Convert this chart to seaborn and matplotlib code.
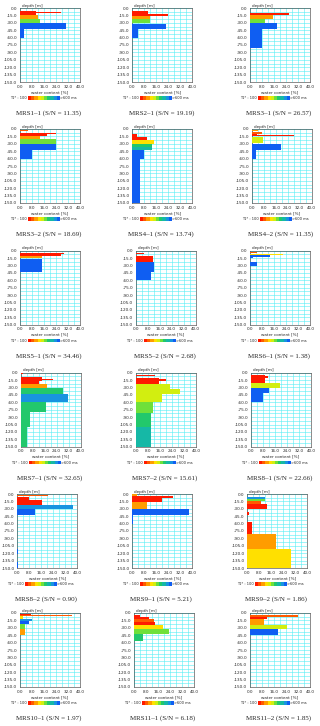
import numpy as np
import matplotlib
matplotlib.use("Agg")
import matplotlib.pyplot as plt
from matplotlib.colors import ListedColormap, BoundaryNorm
import seaborn as sns

# --- data: one small set of lists per sounding (depth top/bottom [m], water content [%], T1* [ms]) ---
names = ["MRS1–1", "MRS2–1", "MRS3–1", "MRS3–2", "MRS4–1", "MRS4–2",
         "MRS5–1", "MRS5–2", "MRS6–1", "MRS7–1", "MRS7–2", "MRS8–1",
         "MRS8–2", "MRS9–1", "MRS9–2", "MRS10–1", "MRS11–1", "MRS11–2"]
snr = [11.35, 19.19, 26.57, 18.69, 13.74, 11.35,
       34.46, 2.68, 1.38, 32.65, 15.61, 22.66,
       0.90, 5.21, 1.86, 1.97, 6.18, 1.85]

mrs1_1_top = [6, 14, 22, 31, 42, 8]
mrs1_1_bot = [14, 22, 31, 42, 60, 10.5]
mrs1_1_wc = [10.7, 11.8, 13.3, 30.4, 2.9, 27.3]
mrs1_1_t1 = [110, 210, 360, 580, 580, 110]

mrs2_1_top = [6, 15.5, 23, 32.5, 43.5, 13]
mrs2_1_bot = [13, 23, 31, 43.5, 60, 15.5]
mrs2_1_wc = [10.7, 11.8, 11.8, 22.4, 4.0, 24.0]
mrs2_1_t1 = [110, 210, 360, 580, 580, 120]

mrs3_1_top = [10.5, 14, 23, 31, 43]
mrs3_1_bot = [14, 23, 31, 43, 82]
mrs3_1_wc = [26.0, 15.6, 10.0, 17.8, 8.2]
mrs3_1_t1 = [120, 210, 360, 580, 580]

mrs3_2_top = [1.5, 4, 7.5, 10.5, 14, 21, 30.5, 43]
mrs3_2_bot = [3.5, 5, 10.5, 14, 21, 29.5, 43, 60]
mrs3_2_wc = [5.5, 3.0, 24.0, 17.8, 13.3, 24.0, 24.0, 8.2]
mrs3_2_t1 = [160, 110, 110, 110, 210, 360, 580, 580]

mrs4_1_top = [10, 16, 22, 30.5, 36, 43, 60]
mrs4_1_bot = [16, 22, 30.5, 36, 43, 60, 150]
mrs4_1_wc = [3.0, 9.5, 14.4, 13.0, 13.0, 8.0, 5.0]
mrs4_1_t1 = [110, 110, 270, 410, 460, 580, 580]

mrs4_2_top = [2, 7, 10, 12, 15.5, 30.5, 43]
mrs4_2_bot = [5, 10, 14, 15, 29, 43, 60]
mrs4_2_wc = [4.4, 6.7, 3.3, 28.0, 7.3, 19.3, 3.0]
mrs4_2_t1 = [210, 160, 110, 110, 300, 580, 580]

mrs5_1_top = [4, 6.7, 10, 16.5]
mrs5_1_bot = [6.7, 10, 15.5, 43.5]
mrs5_1_wc = [29.0, 27.0, 14.4, 14.4]
mrs5_1_t1 = [110, 130, 210, 580]

mrs5_2_top = [4, 10.5, 22.5, 44]
mrs5_2_bot = [7, 22.5, 44, 59]
mrs5_2_wc = [5.8, 11.3, 12.4, 10.2]
mrs5_2_t1 = [130, 110, 580, 580]

mrs6_1_top = [2.5, 6.5, 9, 12.5, 22.5]
mrs6_1_bot = [5.5, 9, 12, 15.5, 32]
mrs6_1_wc = [4.4, 22.0, 13.0, 1.8, 4.4]
mrs6_1_t1 = [160, 290, 560, 560, 580]

mrs7_1_top = [1.3, 9.3, 13.3, 16, 22.6, 31.9, 43.8, 59, 79.6, 110.8]
mrs7_1_bot = [3.3, 16, 15.3, 22.6, 30.5, 43.8, 59, 79.6, 110.8, 150]
mrs7_1_wc = [1.8, 14.4, 21.8, 12.4, 17.3, 28.0, 31.3, 16.9, 6.2, 4.0]
mrs7_1_t1 = [110, 110, 110, 110, 230, 410, 520, 410, 410, 410]

mrs7_2_top = [4.6, 11.3, 13.3, 22.6, 33, 43.8, 59, 82.3, 110.8]
mrs7_2_bot = [6, 22.6, 16, 33, 43.8, 59, 82.3, 110.8, 150]
mrs7_2_wc = [12.7, 15.4, 20.0, 22.8, 29.5, 17.6, 11.6, 9.8, 9.8]
mrs7_2_t1 = [130, 110, 110, 300, 300, 300, 370, 430, 470]

mrs8_1_top = [5.4, 7.5, 21.4, 30.8, 41.5]
mrs8_1_bot = [21.4, 10, 30.8, 41.5, 59]
mrs8_1_wc = [9.3, 11.6, 19.3, 12.2, 8.2]
mrs8_1_t1 = [110, 110, 300, 580, 580]

mrs8_2_top = [2.7, 6.8, 11.5, 21.6, 31, 111, 138]
mrs8_2_bot = [4.7, 11.5, 21.6, 31, 42, 121, 150]
mrs8_2_wc = [20.2, 8.0, 16.7, 36.9, 11.8, 0.5, 0.4]
mrs8_2_t1 = [160, 110, 110, 510, 580, 580, 580]

mrs9_1_top = [0, 4, 4.5, 16, 31, 43]
mrs9_1_bot = [4, 16, 7.5, 31, 43, 60]
mrs9_1_wc = [3.3, 20.0, 26.9, 10.0, 37.8, 0.7]
mrs9_1_t1 = [210, 110, 110, 230, 580, 580]

mrs9_2_top = [6, 10.8, 14.9, 20.3, 36.5, 56.8, 80.4, 110.8]
mrs9_2_bot = [10.8, 14.9, 20.3, 29.7, 43, 80.4, 110.8, 150]
mrs9_2_wc = [12.0, 12.0, 9.0, 13.0, 1.4, 3.2, 19.4, 29.0]
mrs9_2_t1 = [540, 380, 160, 110, 110, 110, 210, 270]

mrs10_1_top = [1.4, 3.4, 6.8, 11.5, 16.9, 21.6, 31.8]
mrs10_1_bot = [4.7, 6.8, 11.5, 16.9, 21.6, 31.8, 43.9]
mrs10_1_wc = [7.1, 34.4, 1.8, 7.8, 6.2, 3.3, 3.3]
mrs10_1_t1 = [110, 160, 270, 510, 580, 360, 210]

mrs11_1_top = [3.4, 8.5, 12.5, 18, 23.6, 31.8, 41.9]
mrs11_1_bot = [8.5, 12.5, 18, 23.6, 31.8, 41.9, 57.4]
mrs11_1_wc = [4.0, 10.0, 13.3, 14.0, 19.6, 23.0, 5.8]
mrs11_1_t1 = [110, 110, 160, 110, 270, 360, 440]

mrs11_2_top = [4.7, 3.4, 12.8, 23.6, 31.8]
mrs11_2_bot = [12.8, 7.4, 23.6, 31.8, 43.9]
mrs11_2_wc = [11.6, 31.8, 9.6, 24.4, 18.4]
mrs11_2_t1 = [110, 160, 210, 300, 560]

tops = [mrs1_1_top, mrs2_1_top, mrs3_1_top, mrs3_2_top, mrs4_1_top, mrs4_2_top,
        mrs5_1_top, mrs5_2_top, mrs6_1_top, mrs7_1_top, mrs7_2_top, mrs8_1_top,
        mrs8_2_top, mrs9_1_top, mrs9_2_top, mrs10_1_top, mrs11_1_top, mrs11_2_top]
bots = [mrs1_1_bot, mrs2_1_bot, mrs3_1_bot, mrs3_2_bot, mrs4_1_bot, mrs4_2_bot,
        mrs5_1_bot, mrs5_2_bot, mrs6_1_bot, mrs7_1_bot, mrs7_2_bot, mrs8_1_bot,
        mrs8_2_bot, mrs9_1_bot, mrs9_2_bot, mrs10_1_bot, mrs11_1_bot, mrs11_2_bot]
wcs = [mrs1_1_wc, mrs2_1_wc, mrs3_1_wc, mrs3_2_wc, mrs4_1_wc, mrs4_2_wc,
       mrs5_1_wc, mrs5_2_wc, mrs6_1_wc, mrs7_1_wc, mrs7_2_wc, mrs8_1_wc,
       mrs8_2_wc, mrs9_1_wc, mrs9_2_wc, mrs10_1_wc, mrs11_1_wc, mrs11_2_wc]
t1s = [mrs1_1_t1, mrs2_1_t1, mrs3_1_t1, mrs3_2_t1, mrs4_1_t1, mrs4_2_t1,
       mrs5_1_t1, mrs5_2_t1, mrs6_1_t1, mrs7_1_t1, mrs7_2_t1, mrs8_1_t1,
       mrs8_2_t1, mrs9_1_t1, mrs9_2_t1, mrs10_1_t1, mrs11_1_t1, mrs11_2_t1]

# T1* colour scale 100 .. >600 ms
t1_colors = ["#ff1a00", "#ff5a00", "#ff9c00", "#ffe000", "#d2ee10",
             "#6fe03a", "#22c86c", "#16b8a6", "#1894e0", "#0f5ef2"]
t1_cmap = ListedColormap(t1_colors)
t1_norm = BoundaryNorm(np.arange(100, 601, 50), t1_cmap.N, clip=True)

# --- figure ---
sns.set_style("white")
plt.rcParams["font.family"] = ["DejaVu Sans"]

W, H = 320, 726
fig = plt.figure(figsize=(W / 100, H / 100), dpi=100)

row_left = [[20, 132.3, 250], [20, 132.3, 251.7], [20, 135.7, 250],
            [20.7, 136, 251], [17.3, 132.3, 247.3], [20, 134, 250]]
row_top = [8, 129, 250.7, 372.7, 494, 613]
ax_w, ax_h = 60, 74


def fx(px):
    return px / W


def fy(py):
    return 1 - py / H


small = 3
for i in range(len(names)):
    r, c = divmod(i, 3)
    L, T = row_left[r][c], row_top[r]
    B = T + ax_h
    ax = fig.add_axes([fx(L), fy(B), ax_w / W, ax_h / H])

    top = np.array(tops[i], dtype=float)
    bot = np.array(bots[i], dtype=float)
    colors = [t1_cmap(t1_norm(v)) for v in t1s[i]]
    ax.barh(-bot, wcs[i], height=bot - top, align="edge", color=colors,
            linewidth=0, zorder=3)

    ax.set_xlim(0, 40)
    ax.set_ylim(-150, 0)
    ax.set_xticks(np.arange(0, 41, 8))
    ax.set_xticks(np.arange(0, 41, 4), minor=True)
    ax.set_yticks(np.arange(-150, 1, 15))
    ax.set_yticks(np.arange(-150, 1, 7.5), minor=True)
    ax.set_xticklabels([f"{v:.1f}" for v in np.arange(0, 41, 8)])
    ax.set_yticklabels([f"{v:.1f}" for v in np.arange(-150, 1, 15)])
    ax.grid(which="both", color="#55eef5", linewidth=0.4, zorder=0)
    ax.set_axisbelow(True)
    ax.tick_params(which="major", labelsize=small, length=1.2, width=0.3, pad=0.8)
    ax.tick_params(which="minor", length=0)
    for s in ax.spines.values():
        s.set_linewidth(0.4)
        s.set_color("#333333")
    ax.set_xlabel("water content [%]", fontsize=small, labelpad=0.8)

    fig.text(fx(L + 2), fy(T - 0.3), "depth [m]", fontsize=small, va="bottom", ha="left")

    # T1* colour bar under each panel
    cax = fig.add_axes([fx(L + 8), fy(B + 17.7), 31.5 / W, 3.4 / H])
    cax.imshow(np.arange(10)[None, :], cmap=t1_cmap, aspect="auto")
    cax.axis("off")
    fig.text(fx(L - 10), fy(B + 16), "T1* : 100", fontsize=2.6, va="center", ha="left")
    fig.text(fx(L + 40), fy(B + 16), ">600 ms", fontsize=2.6, va="center", ha="left")

    fig.text(fx(L + 29), fy(B + 31.5), f"{names[i]} (S/N = {snr[i]:.2f})",
             family=["Liberation Serif", "DejaVu Serif"], fontsize=5,
             ha="center", va="center")

fig.savefig("out.png", dpi=100)
